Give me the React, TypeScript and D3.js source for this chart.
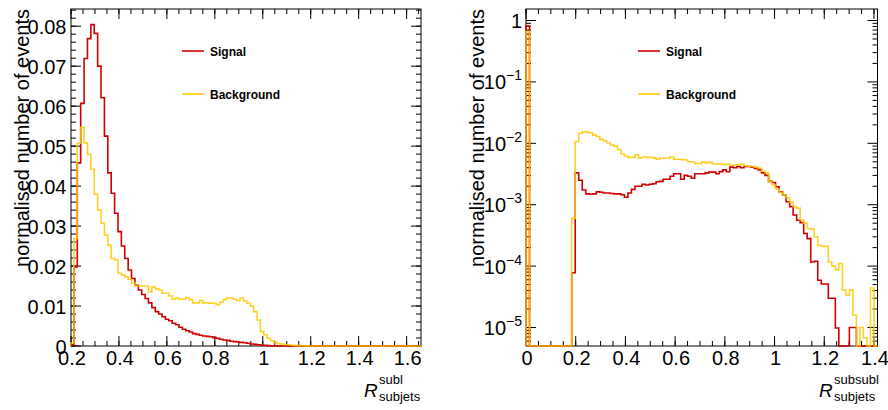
import React from "react";
import * as d3 from "d3";

// ---------- data ----------
const BIN_W = 0.0141421; // histogram bin width (x units)

// left panel: R_subjets^subl, bins start at bin index 14
const LEFT_FIRST_BIN = 14;
const LEFT_LAST_BIN = 118;
const leftSignal = [
  0.0003, 0.0198, 0.0458, 0.0607, 0.0719, 0.0769, 0.0804, 0.0782, 0.07, 0.0621,
  0.0525, 0.0433, 0.0382, 0.0332, 0.0286, 0.025, 0.0219, 0.019, 0.0169, 0.0152,
  0.014, 0.0129, 0.0119, 0.0108, 0.0096, 0.0086, 0.008, 0.0073, 0.0067, 0.0063,
  0.0057, 0.0053, 0.0047, 0.0042, 0.0038, 0.0035, 0.0031, 0.0029, 0.0027, 0.0025,
  0.0024, 0.0023, 0.0021, 0.0019, 0.0017, 0.0015, 0.0014, 0.0012, 0.0011, 0.001,
  0.0009, 0.0008, 0.0007, 0.0005, 0.0004, 0.0003, 0.0002, 0.00015, 0.0001, 0.00005,
  0.00002,
];
const leftBackground = [
  0.0008, 0.0269, 0.0507, 0.0547, 0.0508, 0.0479, 0.0442, 0.038, 0.034, 0.0307,
  0.0278, 0.0252, 0.0219, 0.0215, 0.0182, 0.0178, 0.0173, 0.0167, 0.0158, 0.015,
  0.015, 0.015, 0.015, 0.0136, 0.0148, 0.0143, 0.014, 0.0132, 0.0132, 0.0125,
  0.0117, 0.012, 0.0117, 0.0117, 0.0121, 0.0116, 0.0108, 0.0108, 0.0114, 0.0108,
  0.0108, 0.0107, 0.0107, 0.0103, 0.011, 0.0116, 0.012, 0.012, 0.0117, 0.0114,
  0.012, 0.0113, 0.0107, 0.01, 0.0086, 0.0065, 0.0036, 0.0028, 0.0019, 0.0013,
  0.0008, 0.0006, 0.0005, 0.0003, 0.0003, 0.0002, 0.0001, 0.0001, 0.00005, 0.00003,
];

// right panel: R_subjets^subsubl (log scale), bins 0..99
const RIGHT_FIRST_BIN = 0;
const RIGHT_LAST_BIN = 100;
const rightSignal = [
  0.81, 0, 0, 0, 0, 0, 0, 0, 0, 0,
  0, 0, 0, 7.8e-5, 3.3e-3, 2.5e-3, 1.74e-3, 1.5e-3, 1.48e-3, 1.5e-3,
  1.62e-3, 1.6e-3, 1.55e-3, 1.55e-3, 1.52e-3, 1.5e-3, 1.5e-3, 1.45e-3, 1.32e-3, 1.55e-3,
  1.78e-3, 2.0e-3, 2.0e-3, 2.15e-3, 2.1e-3, 2.15e-3, 2.2e-3, 2.37e-3, 2.4e-3, 2.6e-3,
  2.6e-3, 2.9e-3, 3.2e-3, 3.2e-3, 2.6e-3, 3.0e-3, 2.9e-3, 2.7e-3, 3.2e-3, 3.2e-3,
  3.2e-3, 3.3e-3, 3.4e-3, 3.4e-3, 3.2e-3, 3.46e-3, 3.7e-3, 3.45e-3, 4.1e-3, 4.0e-3,
  4.2e-3, 4.0e-3, 4.2e-3, 4.2e-3, 4.1e-3, 3.9e-3, 3.7e-3, 3.3e-3, 3.0e-3, 2.4e-3,
  2.3e-3, 1.96e-3, 1.62e-3, 1.44e-3, 1.12e-3, 9.3e-4, 6.8e-4, 5.6e-4, 5.1e-4, 3.4e-4,
  2.8e-4, 1.17e-4, 1.2e-4, 5.9e-5, 5.1e-5, 5.1e-5, 3.0e-5, 3.0e-5, 9.8e-6, 0,
  0, 0, 1e-5, 1e-5, 0, 0, 0, 0, 0, 0,
];
const rightBackground = [
  0.66, 0, 0, 0, 0, 0, 0, 0, 0, 0,
  0, 0, 0, 6.0e-4, 0.0107, 0.0146, 0.0154, 0.0152, 0.0147, 0.0136,
  0.0129, 0.0116, 0.011, 0.0102, 0.0094, 0.009, 0.0079, 0.0067, 0.0062, 0.0059,
  0.0059, 0.0065, 0.0058, 0.006, 0.0059, 0.0059, 0.0058, 0.0055, 0.0057, 0.0057,
  0.0057, 0.006, 0.0055, 0.0055, 0.0054, 0.0054, 0.005, 0.005, 0.0047, 0.0047,
  0.005, 0.0048, 0.0049, 0.0046, 0.0046, 0.0046, 0.0045, 0.0046, 0.0044, 0.0044,
  0.0045, 0.0046, 0.0043, 0.0042, 0.0042, 0.0041, 0.0039, 0.0035, 0.0033, 0.0024,
  0.0021, 0.0018, 0.0016, 0.00144, 0.0013, 0.0011, 0.00093, 0.00088, 0.00056, 0.0005,
  0.00041, 0.0004, 0.0003, 0.00022, 0.00021, 0.00021, 0.000117, 0.0001, 0.000087, 0.00011,
  0.000041, 0.000034, 0.000041, 0.000016, 0, 0.00001, 0.0000068, 0, 0.000044, 0,
];

const leftXTicks = [0.2, 0.4, 0.6, 0.8, 1.0, 1.2, 1.4, 1.6];
const leftYTicks = [0, 0.01, 0.02, 0.03, 0.04, 0.05, 0.06, 0.07, 0.08];
const rightXTicks = [0, 0.2, 0.4, 0.6, 0.8, 1.0, 1.2, 1.4];
const rightYTicks = [1, 1e-1, 1e-2, 1e-3, 1e-4, 1e-5];
const rightYTickExp = ["", "−1", "−2", "−3", "−4", "−5"];

const legendLabels = ["Signal", "Background"];
const SIGNAL_COLOR = "#d00000";
const BKG_COLOR = "#ffc800";
const FONT = "'Liberation Sans', Arial, Helvetica, sans-serif";

// ---------- helpers ----------
type Scale = (v: number) => number;

function stepPath(values: number[], first: number, last: number, x: Scale, y: Scale, floor: number) {
  const y0 = y(floor);
  const pts: [number, number][] = [[x(first * BIN_W), y0]];
  for (let k = first; k < last; k++) {
    const v = values[k - first] ?? 0;
    const yy = y(Math.max(v, floor));
    pts.push([x(k * BIN_W), yy], [x((k + 1) * BIN_W), yy]);
  }
  pts.push([x(last * BIN_W), y0]);
  return d3.line()(pts) as string;
}

interface PanelProps {
  id: string;
  frame: { x0: number; x1: number; y0: number; y1: number };
  xDomain: [number, number];
  yDomain: [number, number];
  log: boolean;
  xTicks: number[];
  yTicks: number[];
  first: number;
  last: number;
  signal: number[];
  background: number[];
  legendX: number;
  titleX: number;
  rX: number;
  sup: string;
}

function Panel(p: PanelProps) {
  const { x0, x1, y0, y1 } = p.frame;
  const x = d3.scaleLinear().domain(p.xDomain).range([x0, x1]);
  const y = p.log
    ? d3.scaleLog().domain(p.yDomain).range([y1, y0])
    : d3.scaleLinear().domain(p.yDomain).range([y1, y0]);
  const floor = p.yDomain[0];

  const xMinor = d3.range(Math.ceil(p.xDomain[0] / 0.05 - 1e-6), Math.floor(p.xDomain[1] / 0.05 + 1e-6) + 1).map((i) => i * 0.05);
  let yMinor: number[] = [];
  if (p.log) {
    for (let d = -6; d <= 0; d++) for (let m = 2; m <= 9; m++) {
      const v = m * Math.pow(10, d);
      if (v >= p.yDomain[0] && v <= p.yDomain[1]) yMinor.push(v);
    }
  } else {
    yMinor = d3.range(0, Math.floor(p.yDomain[1] / 0.002 + 1e-6) + 1).map((i) => i * 0.002);
  }
  const MAJ = 10, MIN = 5;
  const fmt = d3.format("~g");

  return (
    <g>
      <defs>
        <clipPath id={`clip-${p.id}`}>
          <rect x={x0 - 1} y={y0 - 1} width={x1 - x0 + 2} height={y1 - y0 + 2} />
        </clipPath>
      </defs>
      {/* frame */}
      <rect x={x0} y={y0} width={x1 - x0} height={y1 - y0} fill="none" stroke="#000" strokeWidth={1} />
      {/* x ticks (bottom + top) */}
      {xMinor.map((v, i) => (
        <g key={`xm${i}`} stroke="#000" strokeWidth={1}>
          <line x1={x(v)} x2={x(v)} y1={y1} y2={y1 - MIN} />
          <line x1={x(v)} x2={x(v)} y1={y0} y2={y0 + MIN} />
        </g>
      ))}
      {p.xTicks.map((v, i) => (
        <g key={`xM${i}`} stroke="#000" strokeWidth={1}>
          <line x1={x(v)} x2={x(v)} y1={y1} y2={y1 - MAJ} />
          <line x1={x(v)} x2={x(v)} y1={y0} y2={y0 + MAJ} />
        </g>
      ))}
      {/* y ticks (left + right) */}
      {yMinor.map((v, i) => (
        <g key={`ym${i}`} stroke="#000" strokeWidth={1}>
          <line x1={x0} x2={x0 + MIN} y1={y(v)} y2={y(v)} />
          <line x1={x1} x2={x1 - MIN} y1={y(v)} y2={y(v)} />
        </g>
      ))}
      {p.yTicks.map((v, i) => (
        <g key={`yM${i}`} stroke="#000" strokeWidth={1}>
          <line x1={x0} x2={x0 + MAJ} y1={y(v)} y2={y(v)} />
          <line x1={x1} x2={x1 - MAJ} y1={y(v)} y2={y(v)} />
        </g>
      ))}
      {/* tick labels */}
      <g fontFamily={FONT} fontSize={20} fill="#000">
        {p.xTicks.map((v, i) => (
          <text key={`xl${i}`} x={x(v) + 1} y={365} textAnchor="middle">{fmt(v)}</text>
        ))}
        {p.yTicks.map((v, i) =>
          p.log ? (
            <text key={`yl${i}`} x={x0 - 4} y={y(v) + 7.5} textAnchor="end">
              {i === 0 ? "1" : (
                <>
                  <tspan>10</tspan>
                  <tspan dy={-9} fontSize={14}>{rightYTickExp[i]}</tspan>
                </>
              )}
            </text>
          ) : (
            <text key={`yl${i}`} x={x0 - 4.5} y={y(v) + 7.5} textAnchor="end">{fmt(v)}</text>
          )
        )}
      </g>
      {/* histograms */}
      <g clipPath={`url(#clip-${p.id})`} fill="none" strokeWidth={1.6} strokeLinejoin="miter">
        <path d={stepPath(p.signal, p.first, p.last, x, y as Scale, floor)} stroke={SIGNAL_COLOR} />
        <path d={stepPath(p.background, p.first, p.last, x, y as Scale, floor)} stroke={BKG_COLOR} strokeOpacity={0.85} />
      </g>
      {/* legend */}
      <g fontFamily={FONT} fontSize={12} fontWeight="bold">
        <line x1={p.legendX} x2={p.legendX + 22} y1={51} y2={51} stroke={SIGNAL_COLOR} strokeWidth={1.6} />
        <text x={p.legendX + 28} y={55.5}>{legendLabels[0]}</text>
        <line x1={p.legendX} x2={p.legendX + 22} y1={94} y2={94} stroke={BKG_COLOR} strokeWidth={1.6} />
        <text x={p.legendX + 28} y={98.5}>{legendLabels[1]}</text>
      </g>
      {/* axis titles */}
      <text transform={`translate(${p.titleX},9) rotate(-90)`} textAnchor="end" fontFamily={FONT} fontSize={20}>
        normalised number of events
      </text>
      <g fontFamily={FONT}>
        <text x={p.rX} y={397} fontSize={19} fontStyle="italic">R</text>
        <text x={p.rX + 15} y={384} fontSize={13}>{p.sup}</text>
        <text x={p.rX + 15} y={401} fontSize={13}>subjets</text>
      </g>
    </g>
  );
}

export default function App() {
  return (
    <svg width={888} height={410} style={{ position: "absolute", left: 0, top: 0, background: "#fff" }}>
      <rect width={888} height={410} fill="#fff" />
      <Panel
        id="left"
        frame={{ x0: 71, x1: 421, y0: 9, y1: 346 }}
        xDomain={[0.2, 1.66]}
        yDomain={[0, 0.0843]}
        log={false}
        xTicks={leftXTicks}
        yTicks={leftYTicks}
        first={LEFT_FIRST_BIN}
        last={LEFT_LAST_BIN}
        signal={leftSignal}
        background={leftBackground}
        legendX={182}
        titleX={28.5}
        rX={364}
        sup="subl"
      />
      <Panel
        id="right"
        frame={{ x0: 526, x1: 877.5, y0: 9, y1: 346 }}
        xDomain={[0, 1.4142]}
        yDomain={[5e-6, 1.54]}
        log={true}
        xTicks={rightXTicks}
        yTicks={rightYTicks}
        first={RIGHT_FIRST_BIN}
        last={RIGHT_LAST_BIN}
        signal={rightSignal}
        background={rightBackground}
        legendX={638}
        titleX={484}
        rX={819}
        sup="subsubl"
      />
    </svg>
  );
}
